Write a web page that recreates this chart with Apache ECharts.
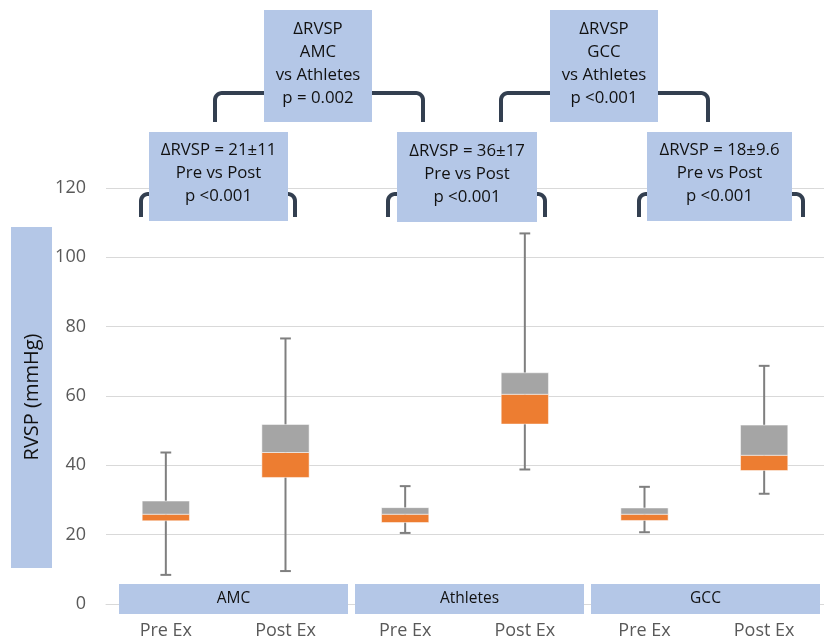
<!DOCTYPE html>
<html>
<head>
<meta charset="utf-8">
<script src="https://cdn.jsdelivr.net/npm/echarts@6/dist/echarts.min.js"></script>
<style>html,body{margin:0;padding:0;background:#fff}#c{width:824px;height:640px}</style>
</head>
<body>
<div id="c"></div>
<script>
// ---- data ----
var categories = ['Pre Ex', 'Post Ex', 'Pre Ex', 'Post Ex', 'Pre Ex', 'Post Ex'];
var groups = ['AMC', 'Athletes', 'GCC'];
var mins    = [8.4, 9.5, 20.5, 38.8, 20.7, 31.8];
var q1s     = [24.0, 36.5, 23.5, 51.9, 24.1, 38.5];
var medians = [25.9, 43.7, 25.9, 60.5, 25.9, 42.9];
var q3s     = [29.7, 51.8, 27.8, 66.7, 27.7, 51.6];
var maxs    = [43.7, 76.6, 34.0, 106.9, 33.8, 68.7];
var yTicks = [0, 20, 40, 60, 80, 100, 120];
var prePostNotes = ['ΔRVSP = 21±11\nPre vs Post\np <0.001', 'ΔRVSP = 36±17\nPre vs Post\np <0.001', 'ΔRVSP = 18±9.6\nPre vs Post\np <0.001'];
var groupNotes = ['ΔRVSP\nAMC\nvs Athletes\np = 0.002', 'ΔRVSP\nGCC\nvs Athletes\np <0.001'];
var yTitle = 'RVSP (mmHg)';

var FONT = 'Open Sans';
var boxData = categories.map(function (c, i) {
  return [i, mins[i], q1s[i], medians[i], q3s[i], maxs[i]];
});

function renderBox(params, api) {
  var x = api.value(0);
  var pMin = api.coord([x, api.value(1)]);
  var pQ1 = api.coord([x, api.value(2)]);
  var pMed = api.coord([x, api.value(3)]);
  var pQ3 = api.coord([x, api.value(4)]);
  var pMax = api.coord([x, api.value(5)]);
  var band = api.size([1, 0])[0];
  var bw = band * 0.395;
  var cw = band * 0.09;
  var cx = pMin[0];
  var lineStyle = { stroke: '#7f7f7f', lineWidth: 2 };
  return {
    type: 'group',
    children: [
      { type: 'line', shape: { x1: cx, y1: pMin[1], x2: cx, y2: pMax[1] }, style: lineStyle },
      { type: 'line', shape: { x1: cx - cw / 2, y1: pMin[1], x2: cx + cw / 2, y2: pMin[1] }, style: lineStyle },
      { type: 'line', shape: { x1: cx - cw / 2, y1: pMax[1], x2: cx + cw / 2, y2: pMax[1] }, style: lineStyle },
      { type: 'rect', shape: { x: cx - bw / 2, y: pMed[1], width: bw, height: pQ1[1] - pMed[1] },
        style: { fill: '#ED7D31', stroke: 'rgba(255,255,255,0.5)', lineWidth: 1 } },
      { type: 'rect', shape: { x: cx - bw / 2, y: pQ3[1], width: bw, height: pMed[1] - pQ3[1] },
        style: { fill: '#A5A5A5', stroke: 'rgba(255,255,255,0.5)', lineWidth: 1 } }
    ]
  };
}

function bracket(x1, x2, yTop, yBot) {
  var r = 7, pts = [[x1, yBot]], i, a;
  for (i = 0; i <= 8; i++) {
    a = Math.PI - (Math.PI / 2) * (i / 8);
    pts.push([x1 + r + r * Math.cos(a), yTop + r - r * Math.sin(a)]);
  }
  for (i = 0; i <= 8; i++) {
    a = Math.PI / 2 - (Math.PI / 2) * (i / 8);
    pts.push([x2 - r + r * Math.cos(a), yTop + r - r * Math.sin(a)]);
  }
  pts.push([x2, yBot]);
  return {
    type: 'polyline', z: 50,
    shape: { points: pts },
    style: { fill: null, stroke: '#333F50', lineWidth: 4 }
  };
}

var graphics = [];
function noteBox(x, y, w, h, text, dy, fs) {
  graphics.push({
    type: 'rect', z: 60,
    shape: { x: x, y: y, width: w, height: h },
    style: { fill: '#B4C7E7' }
  });
  graphics.push({
    type: 'text', z: 61, x: x + w / 2, y: y + h / 2 + (dy || 0),
    style: { text: text, fontFamily: FONT, fontSize: fs || 16.8, fill: '#111', lineHeight: 23,
      align: 'center', verticalAlign: 'middle' }
  });
}

graphics.push(bracket(141, 295, 194, 217));
graphics.push(bracket(388, 545, 194, 217));
graphics.push(bracket(639, 803, 194, 217));
graphics.push(bracket(215, 423, 93, 122));
graphics.push(bracket(501, 708, 93, 122));
noteBox(149, 132, 139, 89, prePostNotes[0], -3);
noteBox(397, 132, 140, 90, prePostNotes[1], -3);
noteBox(647, 132, 145, 89, prePostNotes[2], -3);
noteBox(264, 10, 108, 112, groupNotes[0], -2);
noteBox(550, 10, 108, 112, groupNotes[1], -2);
noteBox(119, 584, 229, 30, groups[0], 0, 15.5);
noteBox(355, 584, 229, 30, groups[1], 0, 15.5);
noteBox(591, 584, 229, 30, groups[2], 0, 15.5);
graphics.push({
  type: 'rect', z: 60,
  shape: { x: 11, y: 227, width: 41, height: 341 },
  style: { fill: '#B4C7E7' }
});
graphics.push({
  type: 'text', z: 61, x: 32, y: 397, rotation: Math.PI / 2,
  style: { text: yTitle, fontFamily: FONT, fontSize: 20, fill: '#111', align: 'center', verticalAlign: 'middle' }
});

var chart = echarts.init(document.getElementById('c'), null, { renderer: 'canvas' });
chart.setOption({
  animation: false,
  backgroundColor: '#fff',
  grid: { left: 106, top: 188, width: 732, height: 416, containLabel: false },
  xAxis: {
    type: 'category',
    data: categories,
    axisTick: { show: false },
    axisLine: { lineStyle: { color: '#d9d9d9', width: 1 } },
    axisLabel: { color: '#595959', fontFamily: FONT, fontSize: 18, margin: 18 },
    splitLine: { show: false }
  },
  yAxis: {
    type: 'value',
    min: yTicks[0], max: yTicks[yTicks.length - 1], interval: 20,
    axisLine: { show: false },
    axisTick: { show: false },
    axisLabel: { color: '#595959', fontFamily: FONT, fontSize: 18, margin: 20 },
    splitLine: { lineStyle: { color: '#d9d9d9', width: 1 } }
  },
  series: [{
    type: 'custom',
    renderItem: renderBox,
    encode: { x: 0, y: [1, 2, 3, 4, 5] },
    data: boxData,
    z: 10
  }],
  graphic: { elements: graphics }
});
</script>
</body>
</html>
